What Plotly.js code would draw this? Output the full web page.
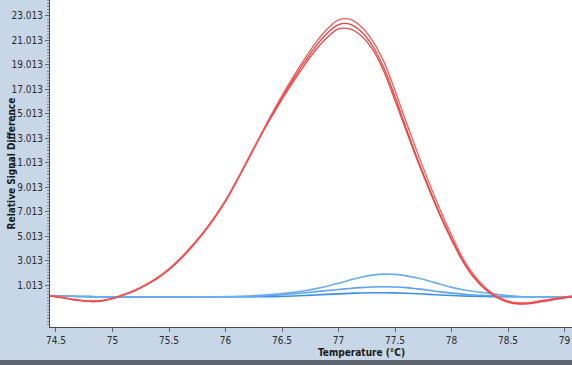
<!DOCTYPE html>
<html>
<head>
<meta charset="utf-8">
<script src="https://cdn.plot.ly/plotly-3.0.1.min.js"></script>
<style>
html,body{margin:0;padding:0;background:#5e656e;width:572px;height:365px;overflow:hidden;}
#chart{width:572px;height:360px;}
</style>
</head>
<body>
<div id="chart"></div>
<script>
const temps = [74.4,74.5,74.6,74.7,74.8,74.9,75.0,75.1,75.2,75.3,75.4,75.5,75.6,75.7,75.8,75.9,
  76.0,76.1,76.2,76.3,76.4,76.5,76.6,76.7,76.8,76.9,77.0,77.1,77.2,77.3,77.4,77.5,77.6,77.7,77.8,77.9,
  78.0,78.1,78.2,78.3,78.4,78.5,78.6,78.7,78.8,78.9,79.0,79.1];

const red1 = [0.2,0.1,-0.05,-0.2,-0.28,-0.25,-0.05,0.25,0.62,1.08,1.65,2.35,3.2,4.2,5.3,6.55,
  7.95,9.6,11.35,13.1,14.85,16.5,18.05,19.5,20.85,21.95,22.7,22.75,22.15,21.0,19.3,16.9,14.3,11.8,9.4,7.15,
  5.1,3.2,1.8,0.8,0.1,-0.3,-0.45,-0.4,-0.25,-0.1,0.05,0.15];
const red2 = [0.15,0.05,-0.1,-0.25,-0.33,-0.3,-0.1,0.2,0.58,1.05,1.6,2.3,3.15,4.15,5.25,6.5,
  7.9,9.55,11.3,13.05,14.75,16.35,17.85,19.25,20.55,21.6,22.3,22.35,21.75,20.6,18.8,16.4,13.8,11.3,8.95,6.75,
  4.8,3.0,1.65,0.7,0.05,-0.35,-0.5,-0.45,-0.3,-0.15,0.0,0.12];
const red3 = [0.15,0.05,-0.1,-0.25,-0.33,-0.3,-0.1,0.2,0.56,1.02,1.56,2.26,3.1,4.1,5.2,6.45,
  7.85,9.5,11.25,13.0,14.65,16.2,17.65,19.0,20.25,21.25,21.95,21.95,21.4,20.3,18.5,16.1,13.6,11.15,8.85,6.65,
  4.7,2.95,1.6,0.65,0.0,-0.4,-0.55,-0.5,-0.35,-0.2,-0.05,0.08];

const blue1 = [0.15,0.12,0.1,0.08,0.06,0.05,0.04,0.04,0.03,0.03,0.03,0.03,0.03,0.04,0.04,0.05,
  0.06,0.09,0.12,0.17,0.24,0.32,0.42,0.55,0.72,0.92,1.15,1.42,1.65,1.82,1.9,1.88,1.76,1.58,1.35,1.08,
  0.82,0.62,0.48,0.38,0.25,0.15,0.08,0.05,0.05,0.05,0.05,0.05];
const blue2 = [0.15,0.12,0.1,0.08,0.06,0.05,0.04,0.04,0.03,0.03,0.03,0.03,0.03,0.04,0.04,0.05,
  0.05,0.05,0.06,0.1,0.15,0.22,0.3,0.38,0.47,0.56,0.65,0.73,0.8,0.85,0.87,0.85,0.8,0.7,0.58,0.45,
  0.35,0.27,0.2,0.15,0.1,0.07,0.05,0.05,0.05,0.05,0.05,0.05];
const blue3 = [0.15,0.12,0.1,0.08,0.06,0.05,0.04,0.04,0.03,0.03,0.03,0.03,0.03,0.04,0.04,0.05,
  0.05,0.05,0.05,0.05,0.05,0.08,0.12,0.16,0.2,0.25,0.29,0.33,0.36,0.38,0.38,0.37,0.34,0.3,0.25,0.2,
  0.16,0.12,0.09,0.07,0.05,0.05,0.05,0.05,0.05,0.05,0.05,0.05];

const yTickVals = [1.013,3.013,5.013,7.013,9.013,11.013,13.013,15.013,17.013,19.013,21.013,23.013];
const yTickText = ["1.013","3.013","5.013","7.013","9.013","11.013","13.013","15.013","17.013","19.013","21.013","23.013"];
const xTickVals = [74.5,75,75.5,76,76.5,77,77.5,78,78.5,79];
const xTickText = ["74.5","75","75.5","76","76.5","77","77.5","78","78.5","79"];

const FONT = "DejaVu Sans Condensed, Liberation Sans Narrow, Arial Narrow, sans-serif";

function tr(y, color, w) {
  return {x: temps, y: y, type: 'scatter', mode: 'lines',
    line: {color: color, width: w, shape: 'spline', smoothing: 1}, hoverinfo: 'skip'};
}

const data = [
  tr(blue3, '#3d8fe6', 1.6),
  tr(blue2, '#5aa3f0', 1.6),
  tr(blue1, '#6aaef2', 1.6),
  tr(red3, '#f04848', 1.3),
  tr(red2, '#f23c3c', 1.3),
  tr(red1, '#f55a5a', 1.3)
];

const layout = {
  width: 572, height: 360,
  margin: {l: 50, r: 0, t: 0, b: 33, pad: 0},
  paper_bgcolor: '#c7d7e8',
  plot_bgcolor: '#ffffff',
  showlegend: false,
  font: {family: FONT, size: 10, color: '#2b2b2b'},
  xaxis: {
    range: [74.447, 79.066], tickmode: 'array', tickvals: xTickVals, ticktext: xTickText,
    showgrid: false, zeroline: false, showline: true, linecolor: '#4a4a4a', linewidth: 1,
    ticks: 'outside', ticklen: 4, tickcolor: '#666', tickfont: {family: FONT, size: 10, color: '#2b2b2b'}
  },
  yaxis: {
    range: [-2.42, 24.32], tickmode: 'array', tickvals: yTickVals, ticktext: yTickText,
    showgrid: false, zeroline: false, showline: true, linecolor: '#4a4a4a', linewidth: 1,
    ticks: 'outside', ticklen: 4, tickcolor: '#666', tickfont: {family: FONT, size: 10, color: '#2b2b2b'},
    minor: {ticks: 'outside', ticklen: 2, dtick: 0.25, tick0: 0.013, tickcolor: '#888'}
  },
  annotations: [
    {text: '<b>Relative Signal Difference</b>', xref: 'paper', yref: 'paper',
     x: -0.073, y: 0.5, xanchor: 'center', yanchor: 'middle', textangle: -90, showarrow: false,
     font: {family: FONT, size: 10, color: '#1a1a1a'}},
    {text: '<b>Temperature (°C)</b>', xref: 'paper', yref: 'paper',
     x: 0.596, y: -0.077, xanchor: 'center', yanchor: 'middle', showarrow: false,
     font: {family: FONT, size: 10, color: '#1a1a1a'}}
  ]
};

Plotly.newPlot('chart', data, layout, {staticPlot: true, displayModeBar: false});
</script>
</body>
</html>
